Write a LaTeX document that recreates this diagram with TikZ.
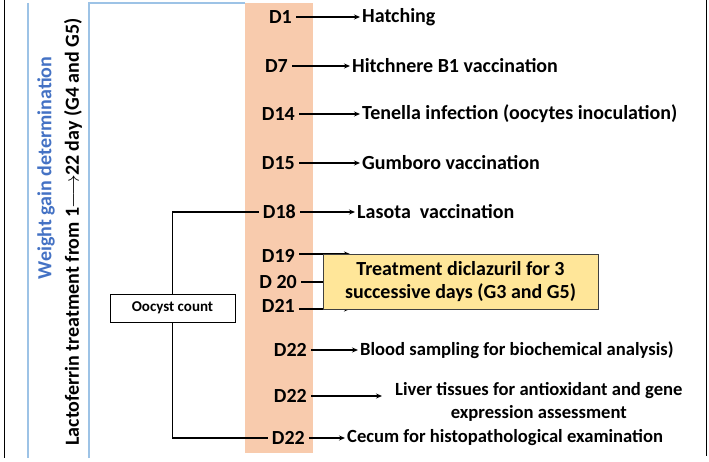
\documentclass[tikz,border=0pt]{standalone}
\usepackage{fontspec}
\setmainfont{Carlito}
\usetikzlibrary{arrows.meta,positioning}
\definecolor{bandorange}{RGB}{248,203,173}
\definecolor{boxyellow} {RGB}{255,230,153}
\definecolor{titleblue} {RGB}{68,114,196}
\definecolor{frameblue} {RGB}{157,195,230}
\tikzset{
  day/.style={font=\fontsize{20}{23}\selectfont\bfseries,inner sep=4pt,anchor=east},
  evt/.style={font=\fontsize{20}{23}\selectfont\bfseries,inner sep=2pt,anchor=west},
  evtsm/.style={evt,font=\fontsize{18.6}{23}\selectfont\bfseries},
  arr/.style={-{Stealth[length=6pt,width=5pt]},line width=1.4pt},
  lin/.style={line width=1.4pt},
  treatbox/.style={draw=black!75,fill=boxyellow,align=center,
                   minimum width=275pt,minimum height=55pt,
                   font=\fontsize{20}{23}\selectfont\bfseries},
  countbox/.style={draw,fill=white,minimum width=125pt,minimum height=28pt,
                   font=\fontsize{15}{17}\selectfont\bfseries},
  sidetxt/.style={rotate=90,font=\fontsize{20}{23}\selectfont\bfseries},
}
\begin{document}
\begin{tikzpicture}[x=1pt,y=-1pt]
  \useasboundingbox (0,0) rectangle (709,462);
  % frame and band
  \fill[bandorange] (245,3) rectangle (313,453);
  \draw[line width=1pt] (4,0) -- (4,458);
  \draw[line width=1pt] (706,0) -- (706,456);
  \draw[frameblue,line width=1.2pt] (28,3) -- (28,458);
  \draw[frameblue,line width=1.2pt] (89,458) -- (89,3) -- (245,3);

  \node[sidetxt,text=titleblue] (wg) at (46,168) {Weight gain determination};
  \node[sidetxt] (lf) at (73,232) {Lactoferrin treatment from 1\kern-1pt$\longrightarrow$\kern-1pt22 day (G4 and G5)};

  % days
  \node[day] (d1)   at (296,17)  {D1};
  \node[day] (d7)   at (292,66)  {D7};
  \node[day] (d14)  at (299,114) {D14};
  \node[day] (d15)  at (299,163) {D15};
  \node[day] (d18)  at (300,212) {D18};
  \node[day] (d19)  at (299,256) {D19};
  \node[day] (d20)  at (301,282) {D 20};
  \node[day] (d21)  at (299,306) {D21};
  \node[day] (d22a) at (311,350) {D22};
  \node[day] (d22b) at (311,396) {D22};
  \node[day] (d22c) at (309,438) {D22};

  % events
  \node[evt] (hatch) at (360,17)  {Hatching};
  \node[evt] (hitch) at (350,66)  {Hitchnere B1 vaccination};
  \node[evt] (ten)   at (360,114) {Tenella infection (oocytes inoculation)};
  \node[evt] (gum)   at (360,163) {Gumboro vaccination};
  \node[evt] (las)   at (355,212) {Lasota\ \ vaccination};
  \node[evtsm] (blood) at (358,350) {Blood sampling for biochemical analysis)};
  \node[evtsm,align=center,inner xsep=13pt] (liver) at (382,402)
        {Liver tissues for antioxidant and gene\\expression assessment};
  \node[evtsm] (cecum) at (345,438) {Cecum for histopathological examination};

  \coordinate (t19) at (350,254);
  \coordinate (t21) at (350,309);
  \draw[arr] (d19.east |- t19) -- (t19);
  \draw[arr] (d21.east |- t21) -- (t21);
  \node[treatbox] (treat) at (460.5,281.5) {Treatment diclazuril for 3\\successive days (G3 and G5)};
  \draw[lin] (d20.east) -- (treat.west |- d20.east);

  \draw[arr] (d1.east)   -- (hatch.west);
  \draw[arr] (d7.east)   -- (hitch.west);
  \draw[arr] (d14.east)  -- (ten.west);
  \draw[arr] (d15.east)  -- (gum.west);
  \draw[arr] (d18.east)  -- (las.west);
  \draw[arr] (d22a.east) -- (blood.west);
  \draw[arr] (d22b.east) -- (liver.west |- d22b.east);
  \draw[arr] (d22c.east) -- (cecum.west);

  % oocyst bracket
  \node[countbox] (oo) at (172.5,308) {Oocyst count};
  \draw[lin] (d18.west) -- (oo.north |- d18.west) -- (oo.north);
  \draw[lin] (oo.south) -- (oo.south |- d22c.west) -- (d22c.west);
\end{tikzpicture}
\end{document}
